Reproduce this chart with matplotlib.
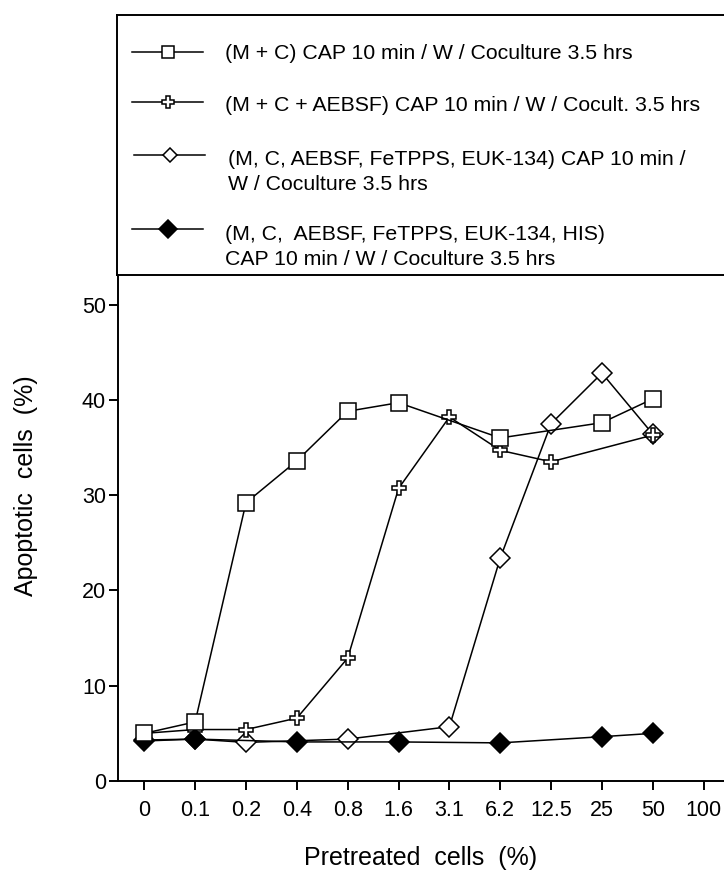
import matplotlib
matplotlib.use("Agg")
import matplotlib.pyplot as plt

plt.rcParams["font.family"] = ["Liberation Sans", "DejaVu Sans"]

# categories on the x axis (evenly spaced)
tick_labels = ["0", "0.1", "0.2", "0.4", "0.8", "1.6", "3.1", "6.2", "12.5", "25", "50", "100"]
y_ticks = [0, 10, 20, 30, 40, 50]

# (M + C)
sq_x = ["0", "0.1", "0.2", "0.4", "0.8", "1.6", "6.2", "25", "50"]
sq_y = [5.0, 6.2, 29.2, 33.6, 38.8, 39.7, 36.0, 37.6, 40.1]

# (M + C + AEBSF)
cr_x = ["0", "0.1", "0.2", "0.4", "0.8", "1.6", "3.1", "6.2", "12.5", "50"]
cr_y = [5.0, 5.4, 5.4, 6.6, 12.9, 30.7, 38.2, 34.7, 33.5, 36.3]

# (M, C, AEBSF, FeTPPS, EUK-134)
od_x = ["0", "0.1", "0.2", "0.8", "3.1", "6.2", "12.5", "25", "50"]
od_y = [4.3, 4.4, 4.05, 4.4, 5.7, 23.4, 37.5, 42.8, 36.4]

# (M, C, AEBSF, FeTPPS, EUK-134, HIS)
fd_x = ["0", "0.1", "0.4", "1.6", "6.2", "25", "50"]
fd_y = [4.2, 4.4, 4.1, 4.1, 4.0, 4.65, 5.0]

labels = [
    "(M + C) CAP 10 min / W / Coculture 3.5 hrs",
    "(M + C + AEBSF) CAP 10 min / W / Cocult. 3.5 hrs",
    "(M, C, AEBSF, FeTPPS, EUK-134) CAP 10 min /\nW / Coculture 3.5 hrs",
    "(M, C,  AEBSF, FeTPPS, EUK-134, HIS)\nCAP 10 min / W / Coculture 3.5 hrs",
]


def pos(cats):
    return [tick_labels.index(c) for c in cats]


W, H = 724, 873
fig = plt.figure(figsize=(W / 100, H / 100), dpi=100)

# main axes
ax = fig.add_axes([118 / W, (H - 781) / H, (W - 118) / W, (781 - 275) / H])
lw = 1.1
style = dict(color="black", lw=lw, markeredgecolor="black", markeredgewidth=1.1)
ax.plot(pos(od_x), od_y, marker="D", ms=10, mfc="white", zorder=2, **style)
ax.plot(pos(cr_x), cr_y, marker="P", ms=10.5, mfc="white", zorder=3, **style)
ax.plot(pos(fd_x), fd_y, marker="D", ms=10, mfc="black", zorder=4, **style)
ax.plot(pos(sq_x), sq_y, marker="s", ms=11, mfc="white", zorder=5, **style)

ax.set_xlim(-0.517, 11.40)
ax.set_ylim(0, 53.1)
ax.set_xticks(range(len(tick_labels)))
ax.set_xticklabels(tick_labels)
ax.set_yticks(y_ticks)
for s in ["top", "right"]:
    ax.spines[s].set_visible(False)
for s in ["left", "bottom"]:
    ax.spines[s].set_linewidth(1.4)
ax.tick_params(direction="out", length=6.5, width=1.4, pad=2.2, labelsize=15.5)
ax.tick_params(axis="x", pad=7)

fig.text(26 / W, 1 - 486 / H, "Apoptotic  cells  (%)", rotation=90,
         ha="center", va="center", fontsize=18)
fig.text(421 / W, 1 - 858 / H, "Pretreated  cells  (%)",
         ha="center", va="center", fontsize=18)

# legend box above the plot
lax = fig.add_axes([117 / W, (H - 275) / H, 1.0, (275 - 15) / H])
lax.set_xlim(117, 117 + W)
lax.set_ylim(275, 15)
lax.set_xticks([])
lax.set_yticks([])
lax.patch.set_alpha(0)
lax.spines["right"].set_visible(False)
for s in ["top", "left", "bottom"]:
    lax.spines[s].set_linewidth(1.4)

handles = [
    dict(marker="s", ms=9, mfc="white"),
    dict(marker="P", ms=9, mfc="white"),
    dict(marker="D", ms=7.6, mfc="white"),
    dict(marker="D", ms=9.5, mfc="black"),
]
marker_y = [52, 102, 155, 229]
# baseline of the last text line of each entry
baseline_y = [59, 111, 190, 265]
text_x = [225, 225, 228, 225]
hx = [132, 132, 134, 132]
for h, my, by, tx, x0, lab in zip(handles, marker_y, baseline_y, text_x, hx, labels):
    lax.plot([x0, x0 + 71], [my, my], color="black", lw=lw)
    lax.plot([x0 + 36], [my], color="black", markeredgecolor="black",
             markeredgewidth=1.1, **h)
    lax.text(tx, by, lab, ha="left", va="baseline", fontsize=15.3, linespacing=1.37)

fig.savefig("out.png", dpi=100)
